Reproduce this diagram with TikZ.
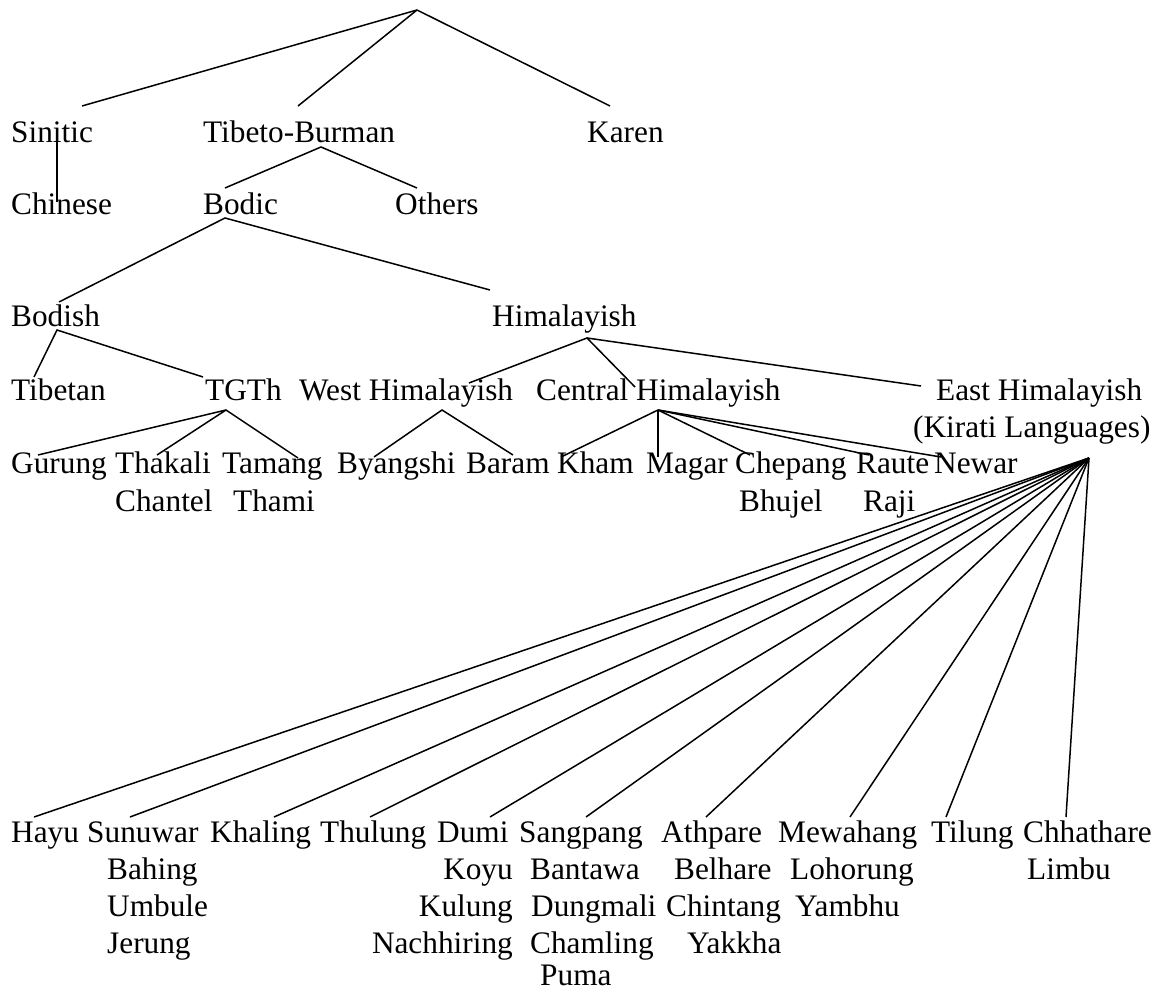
\documentclass[tikz,border=0pt]{standalone}
\usepackage{fontspec}
\setmainfont{Liberation Serif}

\begin{document}
\begin{tikzpicture}[
    x=1pt,y=-1pt,
    lang/.style={anchor=base west, inner sep=0pt, font=\fontsize{31.3}{37}\selectfont},
    langr/.style={lang, anchor=base east},
    branch/.style={line width=1.5pt}
  ]
    \useasboundingbox (0,0) rectangle (1165,992);

    % top levels
    \coordinate (root) at (417,10);
    \node[lang] (sinitic) at (11,143) {Sinitic};
    \node[lang] (tb) at (203,143) {Tibeto-Burman};
    \node[lang] (karen) at (587,143) {Karen};
    \node[lang] (chinese) at (11,215) {Chinese};
    \node[lang] (bodic) at (203,215) {Bodic};
    \node[lang] (others) at (395,215) {Others};
    \node[lang] (bodish) at (11,327) {Bodish};
    \node[lang] (hima) at (492,327) {Himalayish};
    \node[lang] (tibetan) at (11,400) {Tibetan};
    \node[lang] (tgth) at (205,400) {TGTh};
    \node[lang] (west) at (299,400) {West Himalayish};
    \node[lang] (central) at (536,400) {Central Himalayish};
    \node[lang] (east) at (936,400) {East Himalayish};
    \node[lang] (kirati) at (913,437) {(Kirati Languages)};

    % third row
    \node[lang] (gurung) at (11,473) {Gurung};
    \node[lang] (thakali) at (115,473) {Thakali};
    \node[lang] (tamang) at (222,473) {Tamang};
    \node[lang] (byangshi) at (337,473) {Byangshi};
    \node[lang] (baram) at (466,473) {Baram};
    \node[lang] (kham) at (557,473) {Kham};
    \node[lang] (magar) at (646,473) {Magar};
    \node[lang] (chepang) at (735,473) {Chepang};
    \node[lang] (raute) at (856,473) {Raute};
    \node[lang] (newar) at (934,473) {Newar};
    \node[lang] (chantel) at (115,511) {Chantel};
    \node[lang] (thami) at (233,511) {Thami};
    \node[lang] (bhujel) at (739,511) {Bhujel};
    \node[lang] (raji) at (863,511) {Raji};

    % Kirati languages
    \node[lang] (hayu) at (11,842) {Hayu};
    \node[lang] (sunuwar) at (87,842) {Sunuwar};
    \node[lang] (khaling) at (210,842) {Khaling};
    \node[lang] (thulung) at (320,842) {Thulung};
    \node[lang] (dumi) at (437,842) {Dumi};
    \node[lang] (sangpang) at (519,842) {Sangpang};
    \node[lang] (athpare) at (661,842) {Athpare};
    \node[lang] (mewahang) at (778,842) {Mewahang};
    \node[lang] (tilung) at (931,842) {Tilung};
    \node[lang] (chhathare) at (1023,842) {Chhathare};

    \node[lang] (bahing) at (107,879) {Bahing};
    \node[lang] (umbule) at (107,916) {Umbule};
    \node[lang] (jerung) at (107,953) {Jerung};
    \node[langr] (koyu) at (513,879) {Koyu};
    \node[langr] (kulung) at (513,916) {Kulung};
    \node[langr] (nachhiring) at (513,953) {Nachhiring};
    \node[lang] (bantawa) at (530,879) {Bantawa};
    \node[lang] (dungmali) at (531,916) {Dungmali};
    \node[lang] (chamling) at (530,953) {Chamling};
    \node[lang] (puma) at (540,985) {Puma};
    \node[lang] (belhare) at (674,879) {Belhare};
    \node[lang] (chintang) at (666,916) {Chintang};
    \node[lang] (yakkha) at (687,953) {Yakkha};
    \node[lang] (lohorung) at (790,879) {Lohorung};
    \node[lang] (yambhu) at (795,916) {Yambhu};
    \node[lang] (limbu) at (1027,879) {Limbu};

    % branches
    \draw[branch] (root) -- ([shift={(71,-37)}]sinitic.base west);
    \draw[branch] (root) -- ([shift={(95,-37)}]tb.base west);
    \draw[branch] (root) -- ([shift={(23,-37)}]karen.base west);
    \draw[branch] ([shift={(46,-6)}]sinitic.base west) -- ([shift={(46,-13)}]chinese.base west);
    \draw[branch] ([shift={(22,-27)}]bodic.base west) -- ([shift={(118,4)}]tb.base west)
      -- ([shift={(22,-27)}]others.base west);
    \draw[branch] ([shift={(48,-25)}]bodish.base west) -- ([shift={(22,3)}]bodic.base west)
      -- ([shift={(-2,-37)}]hima.base west);
    \draw[branch] ([shift={(23,-23)}]tibetan.base west) -- ([shift={(46,3)}]bodish.base west)
      -- ([shift={(-2,-23)}]tgth.base west);
    \draw[branch] ([shift={(170,-17)}]west.base west) -- ([shift={(95,11)}]hima.base west)
      -- ([shift={(99,-13)}]central.base west);
    \draw[branch] ([shift={(95,11)}]hima.base west) -- ([shift={(-15,-14)}]east.base west);

    \draw[branch] ([shift={(27,-18)}]gurung.base west) -- ([shift={(21,10)}]tgth.base west)
      -- ([shift={(76,-15)}]tamang.base west);
    \draw[branch] ([shift={(21,10)}]tgth.base west) -- ([shift={(42,-18)}]thakali.base west);
    \draw[branch] ([shift={(37,-16)}]byangshi.base west) -- ([shift={(143,10)}]west.base west)
      -- ([shift={(47,-18)}]baram.base west);
    \foreach \n/\dx/\dy in {kham/4/-16, magar/12/-16, chepang/15/-18, raute/13/-18, newar/7/-16}
      \draw[branch] ([shift={(122,10)}]central.base west) -- ([shift={(\dx,\dy)}]\n.base west);

    \foreach \n/\dx in {hayu/23, sunuwar/43, khaling/64, thulung/50, dumi/53,
        sangpang/67, athpare/45, mewahang/72, tilung/15, chhathare/43}
      \draw[branch] ([shift={(176,21)}]kirati.base west) -- ([shift={(\dx,-25)}]\n.base west);
  \end{tikzpicture}
\end{document}
